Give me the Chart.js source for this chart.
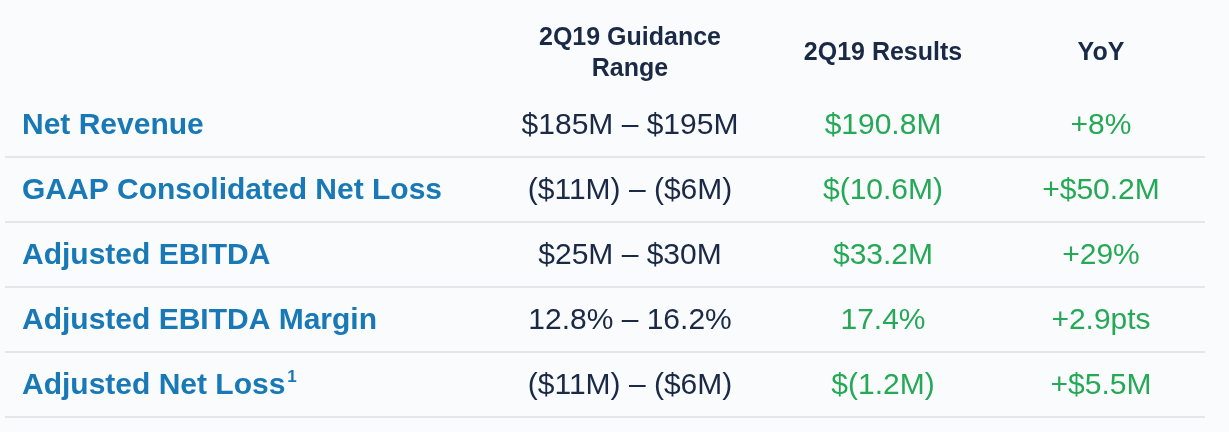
<!DOCTYPE html>
<html lang="en">
<head>
<meta charset="UTF-8">
<title>2Q19 Guidance vs Results</title>
<script src="https://cdn.jsdelivr.net/npm/chart.js"></script>
<style>
  html, body { margin: 0; padding: 0; background: #fafbfc; }
  #wrap { position: relative; width: 1229px; height: 432px; }
</style>
</head>
<body>
<div id="wrap"><canvas id="tableChart"></canvas></div>
<script>
// table content
const metrics = ['Net Revenue', 'GAAP Consolidated Net Loss', 'Adjusted EBITDA', 'Adjusted EBITDA Margin', 'Adjusted Net Loss'];
const footnotes = ['', '', '', '', '1'];
const guidanceRange = ['$185M – $195M', '($11M) – ($6M)', '$25M – $30M', '12.8% – 16.2%', '($11M) – ($6M)'];
const results = ['$190.8M', '$(10.6M)', '$33.2M', '17.4%', '$(1.2M)'];
const yoy = ['+8%', '+$50.2M', '+29%', '+2.9pts', '+$5.5M'];
const columnHeaders = [['2Q19 Guidance', 'Range'], ['2Q19 Results'], ['YoY']];

// look
const FONT = '"Liberation Sans", Arial, sans-serif';
const BLUE = '#1879b6', NAVY = '#1a2946', GREEN = '#26a957', RULE = '#e4e7ea';
const colAnchor = { metric: 22, guidance: 630, results: 883, yoy: 1101 };
const rowKeys = ['header', ...metrics];

const columns = [
  { key: 'metric', texts: metrics, color: BLUE, weight: 'bold', align: 'left' },
  { key: 'guidance', header: columnHeaders[0], texts: guidanceRange, color: NAVY, weight: 'normal', align: 'center' },
  { key: 'results', header: columnHeaders[1], texts: results, color: GREEN, weight: 'normal', align: 'center' },
  { key: 'yoy', header: columnHeaders[2], texts: yoy, color: GREEN, weight: 'normal', align: 'center' }
];

const datasets = columns.map(c => ({
  label: c.key,
  data: metrics.map(m => ({ x: colAnchor[c.key], y: m })),
  cellText: c.texts,
  cellColor: c.color,
  cellWeight: c.weight,
  cellAlign: c.align,
  header: c.header,
  pointRadius: 0
}));

// draws the cell texts at the points the scales placed
const cellText = {
  id: 'cellText',
  afterDatasetsDraw(chart) {
    const ctx = chart.ctx;
    const ys = chart.scales.y;
    ctx.save();
    ctx.textBaseline = 'middle';
    chart.data.datasets.forEach((ds, i) => {
      const meta = chart.getDatasetMeta(i);
      ctx.fillStyle = ds.cellColor;
      ctx.textAlign = ds.cellAlign;
      ctx.font = ds.cellWeight + ' 30px ' + FONT;
      meta.data.forEach((pt, j) => {
        const txt = ds.cellText[j];
        ctx.fillText(txt, pt.x, pt.y + 1);
        if (ds.label === 'metric' && footnotes[j]) {
          const w = ctx.measureText(txt).width;
          ctx.font = 'bold 17px ' + FONT;
          ctx.textAlign = 'left';
          ctx.fillText(footnotes[j], pt.x + w + 2, pt.y - 7);
          ctx.font = ds.cellWeight + ' 30px ' + FONT;
        }
      });
      if (ds.header) {
        const x = meta.data[0].x;
        const yc = ys.getPixelForValue(0) - 6;
        ctx.fillStyle = NAVY;
        ctx.textAlign = 'center';
        ctx.font = 'bold 25px ' + FONT;
        const n = ds.header.length;
        ds.header.forEach((line, k) => {
          ctx.fillText(line, x, yc + (k - (n - 1) / 2) * 31);
        });
      }
    });
    ctx.restore();
  }
};

new Chart(document.getElementById('tableChart'), {
  type: 'scatter',
  data: { datasets },
  options: {
    responsive: true,
    maintainAspectRatio: false,
    animation: false,
    layout: { padding: { left: 5, right: 24, top: 27, bottom: 15 } },
    plugins: { legend: { display: false }, tooltip: { enabled: false } },
    events: [],
    scales: {
      x: { type: 'linear', min: 5, max: 1205, display: false },
      y: {
        type: 'category',
        labels: rowKeys,
        offset: true,
        border: { display: false },
        ticks: { display: false },
        grid: {
          offset: true,
          drawTicks: false,
          lineWidth: 2,
          color: c => (c.index === undefined || c.index >= 2) ? RULE : 'transparent'
        }
      }
    }
  },
  plugins: [cellText]
});
</script>
</body>
</html>
